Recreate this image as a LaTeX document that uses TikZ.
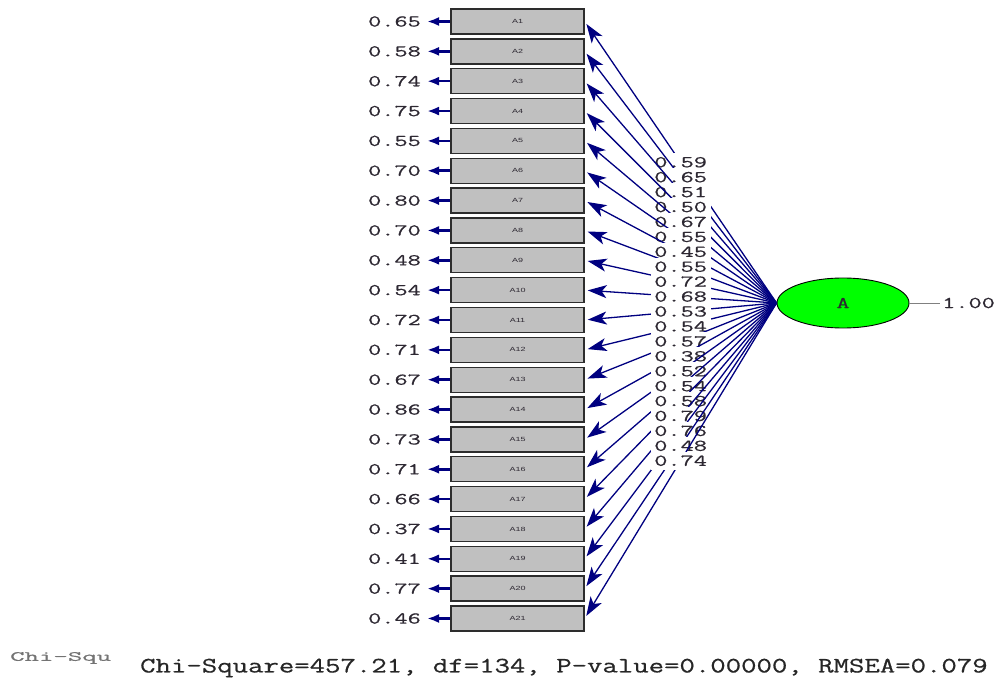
\documentclass[tikz,border=0pt]{standalone}
\usepackage{fontspec}
\newfontfamily\lsans{Liberation Sans}
\newfontfamily\cour[FakeBold=0.6]{Latin Modern Mono}
\usetikzlibrary{arrows.meta,shapes.geometric}
\definecolor{navy}{RGB}{0,0,128}
\definecolor{boxgray}{RGB}{192,192,192}
\definecolor{boxline}{RGB}{45,45,45}
\definecolor{txt}{RGB}{45,40,50}
\definecolor{latgreen}{RGB}{0,255,0}
\newcommand\sx[1]{\scalebox{1.55}[1]{#1}}
\tikzset{
  indbox/.style={draw=boxline, fill=boxgray, line width=1.4pt, minimum width=133pt,
    minimum height=25pt, inner sep=0pt, text=txt, font=\lsans\fontsize{6}{6}\selectfont},
  loadlab/.style={fill=white, inner sep=0pt, minimum width=60pt, minimum height=18pt,
    text=txt, font=\cour\fontsize{16.5}{16.5}\selectfont},
  errlab/.style={anchor=east, inner sep=0pt, text=txt, font=\cour\fontsize{16.5}{16.5}\selectfont},
  loadline/.style={draw=navy, line width=1.3pt, -{Stealth[length=19pt,width=13pt,inset=5pt]}, shorten >=3pt},
  errline/.style={draw=navy, line width=2.5pt, -{Latex[length=12pt,width=9pt]}},
  latent/.style={ellipse, draw=black, line width=0.9pt, fill=latgreen, minimum width=132pt,
    minimum height=50pt, inner sep=0pt, text=txt, font=\cour\fontsize{16.5}{16.5}\selectfont}
}
\begin{document}
\begin{tikzpicture}[x=1pt,y=-1pt]
\useasboundingbox (0,0) rectangle (1003,684);
\node[latent] (A) at (843,303) {\sx{A}};
\coordinate (vend) at (940,303);
\draw[gray, line width=0.8pt] (A.east) -- (vend);
\node[anchor=west, inner sep=0pt, text=txt, font=\cour\fontsize{16.5}{16.5}\selectfont] (v) at (942,303) {\sx{1.00}};
\foreach \i/\e/\l in {1/0.65/0.59, 2/0.58/0.65, 3/0.74/0.51, 4/0.75/0.50, 5/0.55/0.67,
  6/0.70/0.55, 7/0.80/0.45, 8/0.70/0.55, 9/0.48/0.72, 10/0.54/0.68, 11/0.72/0.53,
  12/0.71/0.54, 13/0.67/0.57, 14/0.86/0.38, 15/0.73/0.52, 16/0.71/0.54, 17/0.66/0.58,
  18/0.37/0.79, 19/0.41/0.76, 20/0.77/0.48, 21/0.46/0.74} {
  \pgfmathsetmacro\yy{21.5+(\i-1)*29.85}
  \node[indbox] (b\i) at (517.5,\yy) {\scalebox{1.5}[1]{A\i}};
  \node[errlab] (ev\i) at (421,\yy) {\sx{\e}};
  \coordinate (et\i) at (427,\yy);
  \draw[errline] (b\i.west) -- (et\i);
  \draw[loadline] (A.west) -- node[loadlab] (l\i) {\sx{\l}} (b\i.east);
}
\node[anchor=west, inner sep=0pt, text=black!85, font=\cour\fontsize{22}{22}\selectfont] (chi) at (140,668)
  {\scalebox{1.36}[1]{Chi-Square=457.21, df=134, P-value=0.00000, RMSEA=0.079}};
\node[anchor=west, inner sep=0pt, text=black!55, font=\cour\fontsize{14}{14}\selectfont] (chs) at (10,658)
  {\scalebox{2.0}[1]{Chi-Squ}};
\end{tikzpicture}
\end{document}
